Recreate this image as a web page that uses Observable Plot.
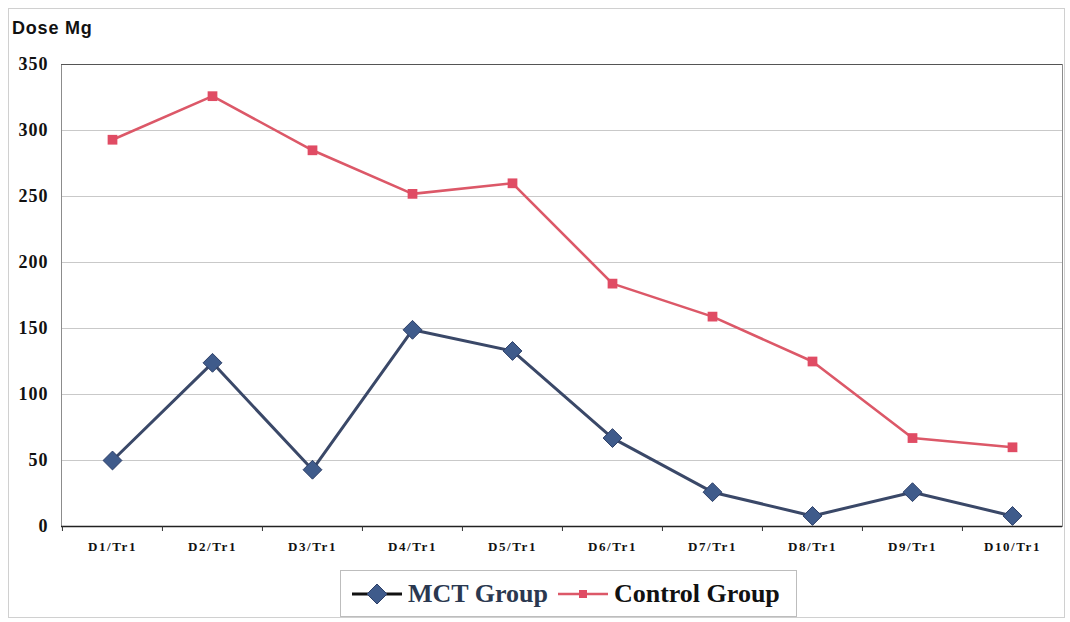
<!DOCTYPE html>
<html>
<head>
<meta charset="utf-8">
<script src="https://cdn.jsdelivr.net/npm/d3@7"></script>
<script src="https://cdn.jsdelivr.net/npm/@observablehq/plot@0.6"></script>
<style>
  html, body { margin: 0; padding: 0; background: #fff; }
  #wrap { position: relative; width: 1070px; height: 622px; overflow: hidden; }
  #outer { position: absolute; left: 8px; top: 8px; width: 1057px; height: 610px; border: 1px solid #d0d0d0; box-sizing: border-box; }
  #title { position: absolute; left: 12px; top: 18px; font: bold 18px "Liberation Sans", Arial, sans-serif; letter-spacing: 0.8px; color: #111; }
  #chart { position: absolute; left: 0; top: 0; }
  #chart g[aria-label="x-axis tick label"] text { letter-spacing: 1.6px; }
  #chart g[aria-label="y-axis tick label"] text { letter-spacing: 1px; }
  #legend { position: absolute; left: 340px; top: 570px; width: 457px; height: 47px; border: 1px solid #bdbdbd; box-sizing: border-box;
            display: flex; align-items: center; font: bold 26px "Liberation Serif", "Times New Roman", serif; color: #111; white-space: nowrap; }
  #legend svg { display: block; }
</style>
</head>
<body>
<div id="wrap">
  <div id="outer"></div>
  <div id="chart"></div>
  <div id="title">Dose Mg</div>
  <div id="legend"></div>
</div>
<script>
const categories = ["D1/Tr1", "D2/Tr1", "D3/Tr1", "D4/Tr1", "D5/Tr1", "D6/Tr1", "D7/Tr1", "D8/Tr1", "D9/Tr1", "D10/Tr1"];
const mctValues = [50, 124, 43, 149, 133, 67, 26, 8, 26, 8];
const controlValues = [293, 326, 285, 252, 260, 184, 159, 125, 67, 60];
const yTicks = [0, 50, 100, 150, 200, 250, 300, 350];
const seriesNames = ["MCT Group", "Control Group"];

const mct = categories.map((c, i) => ({cat: c, value: mctValues[i]}));
const control = categories.map((c, i) => ({cat: c, value: controlValues[i]}));

const MCT_LINE = "#3a4868";
const MCT_FILL = "#3f5b8b";
const CTRL_LINE = "#dc5868";
const CTRL_FILL = "#e04c64";

const plot = Plot.plot({
  width: 1070,
  height: 560,
  marginLeft: 61,
  marginRight: 8,
  marginTop: 64,
  marginBottom: 34,
  style: {background: "transparent", overflow: "visible"},
  x: {type: "band", domain: categories, padding: 0, label: null},
  y: {domain: [0, 350], label: null},
  marks: [
    Plot.gridY(yTicks, {stroke: "#c9c9c9", strokeOpacity: 1}),
    Plot.frame({stroke: "#8c8c8c"}),
    Plot.ruleY([350], {stroke: "#555", strokeWidth: 1.2}),
    Plot.ruleY([0], {stroke: "#222", strokeWidth: 1.6}),
    Plot.axisY(yTicks, {tickSize: 0, tickPadding: 13, fontSize: 18, fontWeight: "bold",
      fontFamily: "Liberation Serif, Times New Roman, serif", fill: "#111", label: null}),
    Plot.axisX({tickSize: 5, dx: -50.05, tickFormat: () => "", stroke: "#333", label: null}),
    Plot.axisX({tickSize: 0, tickPadding: 15, fontSize: 13, fontWeight: "bold",
      fontFamily: "Liberation Serif, Times New Roman, serif", fill: "#111", label: null}),
    Plot.line(control, {x: "cat", y: "value", stroke: CTRL_LINE, strokeWidth: 2.6}),
    Plot.dot(control, {x: "cat", y: "value", symbol: "square", r: 5.5, fill: CTRL_FILL, stroke: "none"}),
    Plot.line(mct, {x: "cat", y: "value", stroke: MCT_LINE, strokeWidth: 3}),
    Plot.dot(mct, {x: "cat", y: "value", symbol: "diamond2", r: 8.5, fill: MCT_FILL, stroke: "#2e4068", strokeWidth: 1})
  ]
});
document.getElementById("chart").appendChild(plot);

// Legend
const legend = document.getElementById("legend");
function swatch(kind) {
  const s = d3.create("svg").attr("width", 54).attr("height", 24);
  if (kind === "mct") {
    s.append("line").attr("x1", 2).attr("x2", 52).attr("y1", 12).attr("y2", 12).attr("stroke", "#111").attr("stroke-width", 3);
    s.append("path").attr("d", "M27,2 L37,12 L27,22 L17,12 Z").attr("fill", MCT_FILL).attr("stroke", "#2e4068");
  } else {
    s.append("line").attr("x1", 2).attr("x2", 52).attr("y1", 12).attr("y2", 12).attr("stroke", CTRL_LINE).attr("stroke-width", 2.6);
    s.append("rect").attr("x", 23).attr("y", 8).attr("width", 8).attr("height", 8).attr("fill", CTRL_FILL);
  }
  return s.node();
}
function item(kind, label, ml) {
  const w = document.createElement("div");
  w.style.display = "flex"; w.style.alignItems = "center"; w.style.marginLeft = ml + "px";
  w.appendChild(swatch(kind));
  const t = document.createElement("span");
  t.textContent = label;
  t.style.marginLeft = "4px";
  if (kind === "mct") t.style.color = "#2a3850";
  w.appendChild(t);
  return w;
}
legend.appendChild(item("mct", seriesNames[0], 9));
legend.appendChild(item("ctrl", seriesNames[1], 8));
</script>
</body>
</html>
